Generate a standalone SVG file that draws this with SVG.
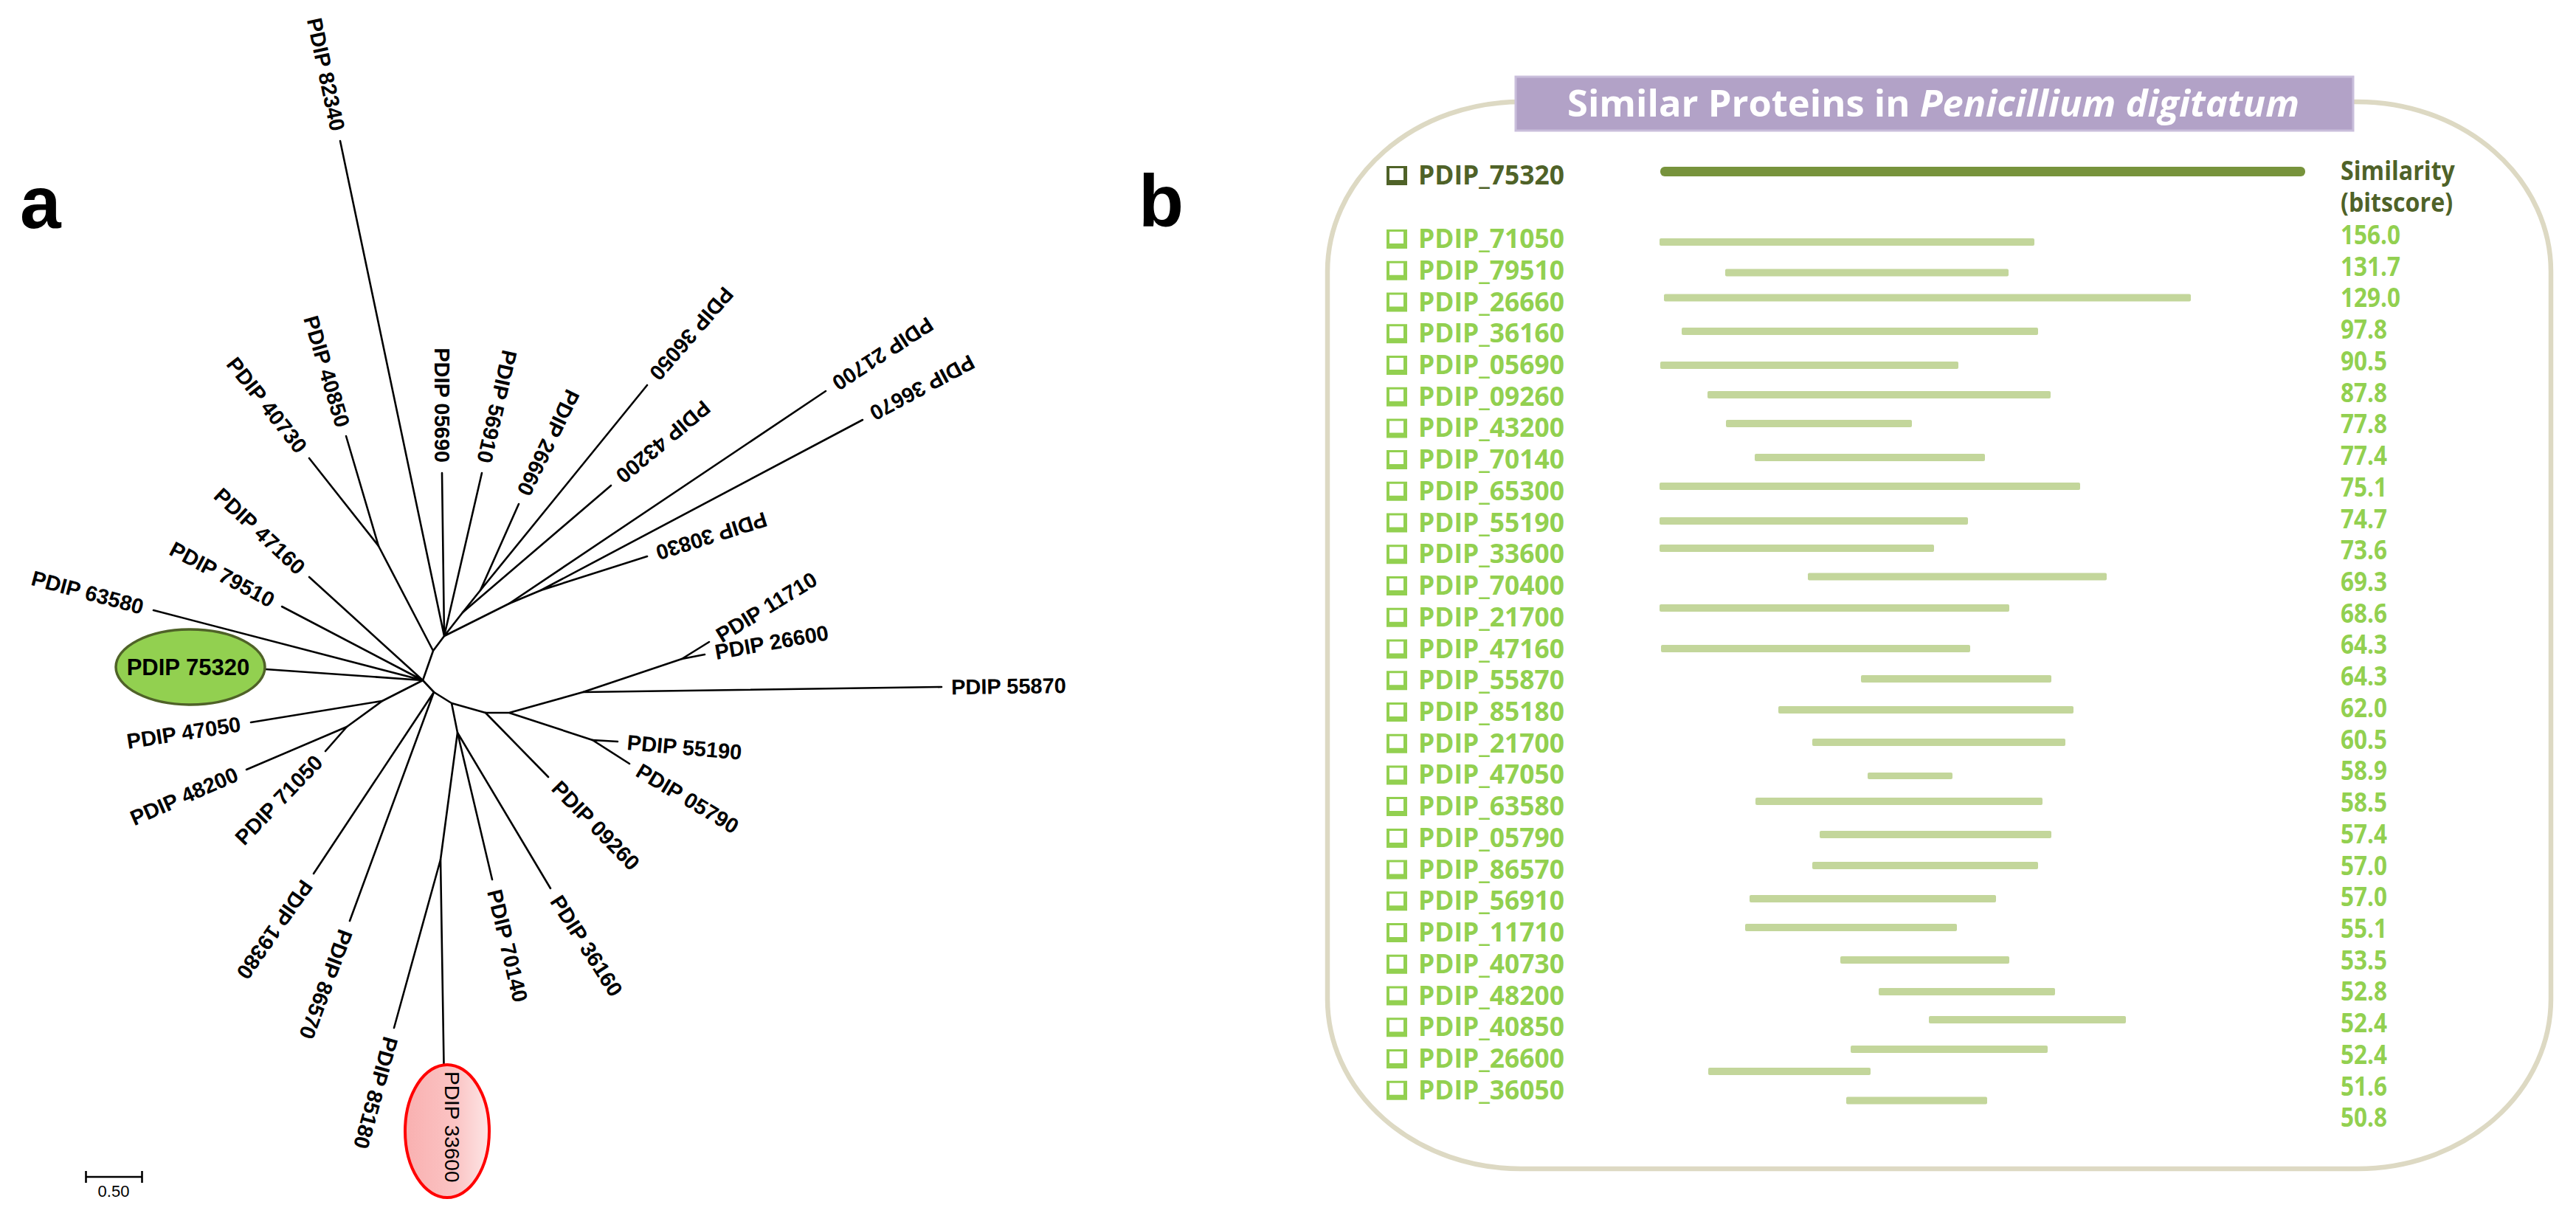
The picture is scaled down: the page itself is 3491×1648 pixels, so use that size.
<svg xmlns="http://www.w3.org/2000/svg" xmlns:xlink="http://www.w3.org/1999/xlink" width="3491" height="1648" viewBox="0 0 3491 1648">
<style>
.t{font-family:"Liberation Sans",Arial,sans-serif;font-weight:bold;font-size:29px;fill:#000}
.big{font-family:"Liberation Sans",Arial,sans-serif;font-weight:bold;font-size:100px;fill:#000}
.edge{fill:none;stroke:#000;stroke-width:2.6;stroke-linecap:round;stroke-linejoin:round}
.rl{font-family:"Open Sans","Noto Sans",sans-serif;font-weight:700;font-size:35px}
.lg{fill:#92d050}
.dg{fill:#4f6228}
.bar{fill:#c3d69b}
</style>
<defs>
<linearGradient id="pink" x1="0" y1="0" x2="1" y2="0">
<stop offset="0" stop-color="#f9b0b0"/>
<stop offset="0.6" stop-color="#fbc4c4"/>
<stop offset="1" stop-color="#fde6e6"/>
</linearGradient>
<path id="cbox" d="M0,0H28V26H0Z M4,3V19H23V3Z" fill-rule="evenodd"/>
</defs>
<rect width="3491" height="1648" fill="#fff"/>

<!-- Panel a -->
<text class="big" x="27" y="309">a</text>
<g id="connectors" class="edge">
<path d="M573,922 L587,882 L602,862 M587,882 L513,740 M602,862 L627,830 L651,800 M602,862 L690,818 L733,800 M573,922 L588,938 L612,953 L658,966 L690,966 M690,966 L790,938 L924,893 M690,966 L803,1003 M612,953 L620,993 L597,1165 M573,922 L518,950 L470,985"/>
<path d="M602,862 L461,191 M513,740 L469,591 M513,740 L419,621 M602,862 L599,641 M602,862 L653,641 M651,800 L703,683 M651,800 L877,522 M627,830 L828,658 M690,818 L1119,530 M733,800 L1169,569 M733,800 L877,754 M924,893 L961,870 M924,893 L955,887 M790,938 L1276,931 M803,1003 L837,1005 M803,1003 L853,1035 M658,966 L743,1053 M620,993 L746,1204 M620,993 L667,1192 M597,1165 L601.5,1443 M597,1165 L534,1393 M588,938 L474,1248 M588,938 L425,1184 M470,985 L441,1018 M470,985 L334,1043 M518,950 L340,979 M573,922 L360,907 M573,922 L208,827 M573,922 L382,822 M573,922 L419,782"/>
</g>
<g id="leaf-82340"><text class="t" text-anchor="end" dy=".35em" transform="translate(458,177) rotate(78)">PDIP 82340</text></g>
<g id="leaf-40850"><text class="t" text-anchor="end" dy=".35em" transform="translate(465,578) rotate(73.5)">PDIP 40850</text></g>
<g id="leaf-40730"><text class="t" text-anchor="end" dy=".35em" transform="translate(410,610) rotate(51.7)">PDIP 40730</text></g>
<g id="leaf-05690"><text class="t" text-anchor="end" dy=".35em" transform="translate(599,627) rotate(90)">PDIP 05690</text></g>
<g id="leaf-56910"><text class="t" text-anchor="end" dy=".35em" transform="translate(656,627) rotate(103)">PDIP 56910</text></g>
<g id="leaf-26660"><text class="t" text-anchor="end" dy=".35em" transform="translate(709,670) rotate(116)">PDIP 26660</text></g>
<g id="leaf-36050"><text class="t" text-anchor="end" dy=".35em" transform="translate(886,511) rotate(131)">PDIP 36050</text></g>
<g id="leaf-43200"><text class="t" text-anchor="end" dy=".35em" transform="translate(839,649) rotate(140)">PDIP 43200</text></g>
<g id="leaf-21700"><text class="t" text-anchor="end" dy=".35em" transform="translate(1131,522) rotate(147)">PDIP 21700</text></g>
<g id="leaf-36670"><text class="t" text-anchor="end" dy=".35em" transform="translate(1181,562) rotate(152)">PDIP 36670</text></g>
<g id="leaf-30830"><text class="t" text-anchor="end" dy=".35em" transform="translate(890,750) rotate(162.5)">PDIP 30830</text></g>
<g id="leaf-11710"><text class="t" dy=".35em" transform="translate(973,863) rotate(-31.5)">PDIP 11710</text></g>
<g id="leaf-26600"><text class="t" dy=".35em" transform="translate(969,884) rotate(-10)">PDIP 26600</text></g>
<g id="leaf-55870"><text class="t" dy=".35em" transform="translate(1289,931) rotate(-0.8)">PDIP 55870</text></g>
<g id="leaf-55190"><text class="t" dy=".35em" transform="translate(850,1006) rotate(5)">PDIP 55190</text></g>
<g id="leaf-05790"><text class="t" dy=".35em" transform="translate(865,1042) rotate(31)">PDIP 05790</text></g>
<g id="leaf-09260"><text class="t" dy=".35em" transform="translate(753,1063) rotate(45.7)">PDIP 09260</text></g>
<g id="leaf-36160"><text class="t" dy=".35em" transform="translate(753,1216) rotate(57.5)">PDIP 36160</text></g>
<g id="leaf-70140"><text class="t" dy=".35em" transform="translate(670,1206) rotate(76.7)">PDIP 70140</text></g>
<g id="leaf-33600">
<ellipse cx="606" cy="1533" rx="57" ry="90" fill="url(#pink)" stroke="#ff0000" stroke-width="4"/>
<text class="t" style="font-weight:normal;font-size:28px" dy=".35em" transform="translate(613,1452) rotate(90)">PDIP 33600</text>
</g>
<g id="leaf-85180"><text class="t" dy=".35em" transform="translate(530,1406) rotate(105.4)">PDIP 85180</text></g>
<g id="leaf-86570"><text class="t" dy=".35em" transform="translate(469,1261) rotate(110.5)">PDIP 86570</text></g>
<g id="leaf-19380"><text class="t" dy=".35em" transform="translate(417,1196) rotate(125)">PDIP 19380</text></g>
<g id="leaf-71050"><text class="t" text-anchor="end" dy=".35em" transform="translate(432,1028) rotate(-46)">PDIP 71050</text></g>
<g id="leaf-48200"><text class="t" text-anchor="end" dy=".35em" transform="translate(321,1048) rotate(-23.5)">PDIP 48200</text></g>
<g id="leaf-47050"><text class="t" text-anchor="end" dy=".35em" transform="translate(326,981) rotate(-8.8)">PDIP 47050</text></g>
<g id="leaf-75320">
<ellipse cx="258" cy="904" rx="101" ry="51" fill="#92d050" stroke="#4f6228" stroke-width="3.5"/>
<text class="t" style="font-size:31px" x="255" y="904" dy=".35em" text-anchor="middle">PDIP 75320</text>
</g>
<g id="leaf-63580"><text class="t" text-anchor="end" dy=".35em" transform="translate(194,823) rotate(15)">PDIP 63580</text></g>
<g id="leaf-79510"><text class="t" text-anchor="end" dy=".35em" transform="translate(370,815) rotate(28)">PDIP 79510</text></g>
<g id="leaf-47160"><text class="t" text-anchor="end" dy=".35em" transform="translate(409,773) rotate(43)">PDIP 47160</text></g>
<g id="scale-bar">
<path d="M116.5,1595 H192.5 M116.5,1587 V1603 M192.5,1587 V1603" fill="none" stroke="#000" stroke-width="2.6"/>
<text x="154" y="1622" text-anchor="middle" style="font-family:'Liberation Sans',Arial,sans-serif;font-size:22px">0.50</text>
</g>

<!-- Panel b -->
<text class="big" x="1543" y="307">b</text>
<g id="frame">
<rect x="1799" y="138" width="1658" height="1446" rx="262" ry="230" fill="none" stroke="#ddd9c3" stroke-width="6.5"/>
</g>
<g id="title">
<rect x="2054" y="104" width="1135" height="73" fill="#b2a2c7" stroke="#c9bedb" stroke-width="3"/>
<text x="2124" y="158" textLength="992" lengthAdjust="spacingAndGlyphs" style="font-family:'Open Sans','Noto Sans',sans-serif;font-weight:700;font-size:51px;fill:#fff">Similar Proteins in <tspan font-style="italic">Penicillium digitatum</tspan></text>
</g>
<g id="row-75320">
<use xlink:href="#cbox" x="1879" y="225" class="dg"/>
<text class="rl dg" x="1922" y="250" textLength="198" lengthAdjust="spacingAndGlyphs">PDIP_75320</text>
<rect x="2250" y="226" width="874" height="13" rx="6" fill="#77933c"/>
</g>
<g id="header-score" transform="translate(3172,0) scale(0.92,1) translate(-3172,0)">
<text class="rl dg" x="3172" y="244">Similarity</text>
<text class="rl dg" x="3172" y="287">(bitscore)</text>
</g>
<g id="row-71050" class="lg"><use xlink:href="#cbox" x="1879" y="311"/><text class="rl" x="1922" y="336" textLength="198" lengthAdjust="spacingAndGlyphs">PDIP_71050</text><rect class="bar" x="2249" y="323" width="508" height="10" rx="2"/></g>
<g id="row-79510" class="lg"><use xlink:href="#cbox" x="1879" y="353.7"/><text class="rl" x="1922" y="378.7" textLength="198" lengthAdjust="spacingAndGlyphs">PDIP_79510</text><rect class="bar" x="2338" y="364.5" width="384" height="10" rx="2"/></g>
<g id="row-26660" class="lg"><use xlink:href="#cbox" x="1879" y="396.5"/><text class="rl" x="1922" y="421.5" textLength="198" lengthAdjust="spacingAndGlyphs">PDIP_26660</text><rect class="bar" x="2255" y="398.5" width="714" height="10" rx="2"/></g>
<g id="row-36160" class="lg"><use xlink:href="#cbox" x="1879" y="439.2"/><text class="rl" x="1922" y="464.2" textLength="198" lengthAdjust="spacingAndGlyphs">PDIP_36160</text><rect class="bar" x="2279" y="444" width="483" height="10" rx="2"/></g>
<g id="row-05690" class="lg"><use xlink:href="#cbox" x="1879" y="481.9"/><text class="rl" x="1922" y="506.9" textLength="198" lengthAdjust="spacingAndGlyphs">PDIP_05690</text><rect class="bar" x="2250" y="490" width="404" height="10" rx="2"/></g>
<g id="row-09260" class="lg"><use xlink:href="#cbox" x="1879" y="524.7"/><text class="rl" x="1922" y="549.7" textLength="198" lengthAdjust="spacingAndGlyphs">PDIP_09260</text><rect class="bar" x="2314" y="530" width="465" height="10" rx="2"/></g>
<g id="row-43200" class="lg"><use xlink:href="#cbox" x="1879" y="567.4"/><text class="rl" x="1922" y="592.4" textLength="198" lengthAdjust="spacingAndGlyphs">PDIP_43200</text><rect class="bar" x="2339" y="569" width="252" height="10" rx="2"/></g>
<g id="row-70140" class="lg"><use xlink:href="#cbox" x="1879" y="610.1"/><text class="rl" x="1922" y="635.1" textLength="198" lengthAdjust="spacingAndGlyphs">PDIP_70140</text><rect class="bar" x="2378" y="615" width="312" height="10" rx="2"/></g>
<g id="row-65300" class="lg"><use xlink:href="#cbox" x="1879" y="652.8"/><text class="rl" x="1922" y="677.8" textLength="198" lengthAdjust="spacingAndGlyphs">PDIP_65300</text><rect class="bar" x="2249" y="654" width="570" height="10" rx="2"/></g>
<g id="row-55190" class="lg"><use xlink:href="#cbox" x="1879" y="695.6"/><text class="rl" x="1922" y="720.6" textLength="198" lengthAdjust="spacingAndGlyphs">PDIP_55190</text><rect class="bar" x="2249" y="701" width="418" height="10" rx="2"/></g>
<g id="row-33600" class="lg"><use xlink:href="#cbox" x="1879" y="738.3"/><text class="rl" x="1922" y="763.3" textLength="198" lengthAdjust="spacingAndGlyphs">PDIP_33600</text><rect class="bar" x="2249" y="738" width="372" height="10" rx="2"/></g>
<g id="row-70400" class="lg"><use xlink:href="#cbox" x="1879" y="781"/><text class="rl" x="1922" y="806" textLength="198" lengthAdjust="spacingAndGlyphs">PDIP_70400</text><rect class="bar" x="2450" y="776.5" width="405" height="10" rx="2"/></g>
<g id="row-21700a" class="lg"><use xlink:href="#cbox" x="1879" y="823.8"/><text class="rl" x="1922" y="848.8" textLength="198" lengthAdjust="spacingAndGlyphs">PDIP_21700</text><rect class="bar" x="2249" y="819" width="474" height="10" rx="2"/></g>
<g id="row-47160" class="lg"><use xlink:href="#cbox" x="1879" y="866.5"/><text class="rl" x="1922" y="891.5" textLength="198" lengthAdjust="spacingAndGlyphs">PDIP_47160</text><rect class="bar" x="2251" y="874" width="419" height="10" rx="2"/></g>
<g id="row-55870" class="lg"><use xlink:href="#cbox" x="1879" y="909.2"/><text class="rl" x="1922" y="934.2" textLength="198" lengthAdjust="spacingAndGlyphs">PDIP_55870</text><rect class="bar" x="2522" y="915" width="258" height="10" rx="2"/></g>
<g id="row-85180" class="lg"><use xlink:href="#cbox" x="1879" y="952"/><text class="rl" x="1922" y="977" textLength="198" lengthAdjust="spacingAndGlyphs">PDIP_85180</text><rect class="bar" x="2410" y="957" width="400" height="10" rx="2"/></g>
<g id="row-21700b" class="lg"><use xlink:href="#cbox" x="1879" y="994.7"/><text class="rl" x="1922" y="1019.7" textLength="198" lengthAdjust="spacingAndGlyphs">PDIP_21700</text><rect class="bar" x="2456" y="1001" width="343" height="10" rx="2"/></g>
<g id="row-47050" class="lg"><use xlink:href="#cbox" x="1879" y="1037.4"/><text class="rl" x="1922" y="1062.4" textLength="198" lengthAdjust="spacingAndGlyphs">PDIP_47050</text><rect class="bar" x="2531" y="1047" width="115" height="9" rx="2"/></g>
<g id="row-63580" class="lg"><use xlink:href="#cbox" x="1879" y="1080.1"/><text class="rl" x="1922" y="1105.1" textLength="198" lengthAdjust="spacingAndGlyphs">PDIP_63580</text><rect class="bar" x="2379" y="1081" width="389" height="10" rx="2"/></g>
<g id="row-05790" class="lg"><use xlink:href="#cbox" x="1879" y="1122.9"/><text class="rl" x="1922" y="1147.9" textLength="198" lengthAdjust="spacingAndGlyphs">PDIP_05790</text><rect class="bar" x="2466" y="1126" width="314" height="10" rx="2"/></g>
<g id="row-86570" class="lg"><use xlink:href="#cbox" x="1879" y="1165.6"/><text class="rl" x="1922" y="1190.6" textLength="198" lengthAdjust="spacingAndGlyphs">PDIP_86570</text><rect class="bar" x="2456" y="1168" width="306" height="10" rx="2"/></g>
<g id="row-56910" class="lg"><use xlink:href="#cbox" x="1879" y="1208.3"/><text class="rl" x="1922" y="1233.3" textLength="198" lengthAdjust="spacingAndGlyphs">PDIP_56910</text><rect class="bar" x="2371" y="1213" width="334" height="10" rx="2"/></g>
<g id="row-11710" class="lg"><use xlink:href="#cbox" x="1879" y="1251.1"/><text class="rl" x="1922" y="1276.1" textLength="198" lengthAdjust="spacingAndGlyphs">PDIP_11710</text><rect class="bar" x="2365" y="1252" width="287" height="10" rx="2"/></g>
<g id="row-40730" class="lg"><use xlink:href="#cbox" x="1879" y="1293.8"/><text class="rl" x="1922" y="1318.8" textLength="198" lengthAdjust="spacingAndGlyphs">PDIP_40730</text><rect class="bar" x="2494" y="1296" width="229" height="10" rx="2"/></g>
<g id="row-48200" class="lg"><use xlink:href="#cbox" x="1879" y="1336.5"/><text class="rl" x="1922" y="1361.5" textLength="198" lengthAdjust="spacingAndGlyphs">PDIP_48200</text><rect class="bar" x="2546" y="1339" width="239" height="10" rx="2"/></g>
<g id="row-40850" class="lg"><use xlink:href="#cbox" x="1879" y="1379.3"/><text class="rl" x="1922" y="1404.3" textLength="198" lengthAdjust="spacingAndGlyphs">PDIP_40850</text><rect class="bar" x="2614" y="1377" width="267" height="10" rx="2"/></g>
<g id="row-26600" class="lg"><use xlink:href="#cbox" x="1879" y="1422"/><text class="rl" x="1922" y="1447" textLength="198" lengthAdjust="spacingAndGlyphs">PDIP_26600</text><rect class="bar" x="2508" y="1417" width="267" height="10" rx="2"/><rect class="bar" x="2315" y="1447" width="220" height="10" rx="2"/></g>
<g id="row-36050" class="lg"><use xlink:href="#cbox" x="1879" y="1464.7"/><text class="rl" x="1922" y="1489.7" textLength="198" lengthAdjust="spacingAndGlyphs">PDIP_36050</text><rect class="bar" x="2502" y="1486.5" width="191" height="10" rx="2"/></g>
<g id="scores" class="rl lg" transform="translate(3172,0) scale(0.9,1) translate(-3172,0)">
<text x="3172" y="331">156.0</text>
<text x="3172" y="373.7">131.7</text>
<text x="3172" y="416.5">129.0</text>
<text x="3172" y="459.2">97.8</text>
<text x="3172" y="501.9">90.5</text>
<text x="3172" y="544.7">87.8</text>
<text x="3172" y="587.4">77.8</text>
<text x="3172" y="630.1">77.4</text>
<text x="3172" y="672.8">75.1</text>
<text x="3172" y="715.6">74.7</text>
<text x="3172" y="758.3">73.6</text>
<text x="3172" y="801">69.3</text>
<text x="3172" y="843.8">68.6</text>
<text x="3172" y="886.5">64.3</text>
<text x="3172" y="929.2">64.3</text>
<text x="3172" y="972">62.0</text>
<text x="3172" y="1014.7">60.5</text>
<text x="3172" y="1057.4">58.9</text>
<text x="3172" y="1100.1">58.5</text>
<text x="3172" y="1142.9">57.4</text>
<text x="3172" y="1185.6">57.0</text>
<text x="3172" y="1228.3">57.0</text>
<text x="3172" y="1271.1">55.1</text>
<text x="3172" y="1313.8">53.5</text>
<text x="3172" y="1356.5">52.8</text>
<text x="3172" y="1399.3">52.4</text>
<text x="3172" y="1442">52.4</text>
<text x="3172" y="1484.7">51.6</text>
<text x="3172" y="1527.4">50.8</text>
</g>
</svg>
